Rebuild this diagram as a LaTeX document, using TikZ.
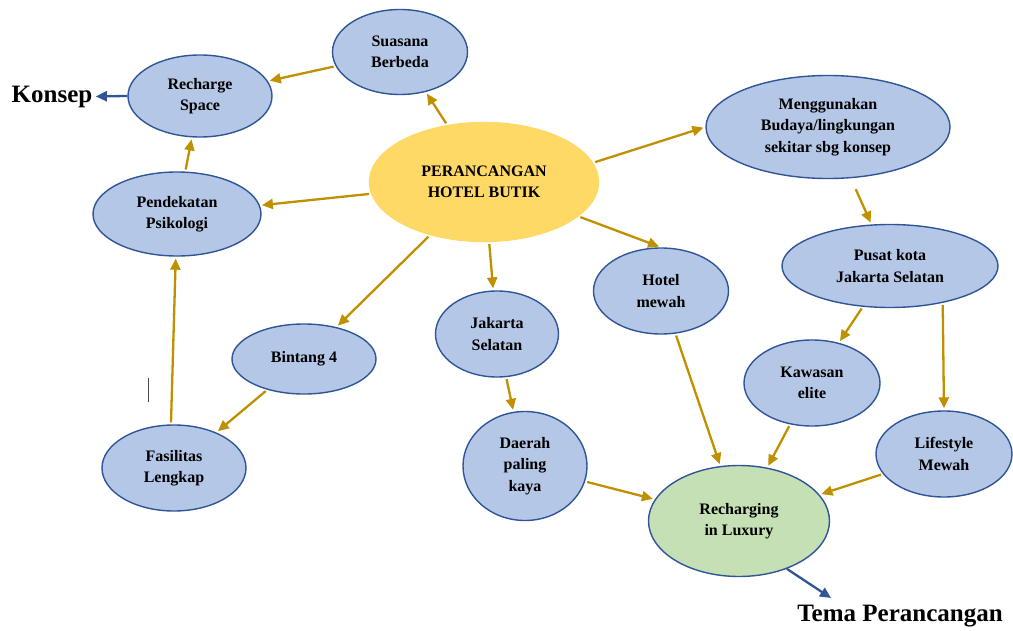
\documentclass[tikz,border=0pt]{standalone}
\usepackage{fontspec}
\setmainfont{Liberation Serif}
\usetikzlibrary{arrows.meta,positioning,shapes}
\definecolor{bubble}{HTML}{B4C7E7}
\definecolor{rim}{HTML}{2F5597}
\definecolor{gold}{HTML}{BF9000}
\definecolor{sun}{HTML}{FFD966}
\definecolor{mint}{HTML}{C5E0B4}
\tikzset{
mindmap/.style={>={Triangle[length=11pt,width=10pt]},x=1pt,y=-1pt,
font=\bfseries\fontsize{16}{21.5}\selectfont},
idea/.style={ellipse,draw=rim,fill=bubble,line width=1.4pt,
align=center,inner sep=0pt},
core/.style={idea,draw=sun,fill=sun},
theme/.style={idea,fill=mint},
link/.style={->,color=gold,line width=2.3pt,shorten >=2pt,shorten <=2pt},
label link/.style={->,color=rim,line width=2.3pt},
tag/.style={font=\bfseries\fontsize{25}{30}\selectfont},
}

\begin{document}
\begin{tikzpicture}[mindmap]
    \useasboundingbox (0,0) rectangle (1013,631);

    \node[core, minimum width=229pt, minimum height=119pt] (butik) at (484,182) {PERANCANGAN\\HOTEL BUTIK};
    \node[idea, minimum width=135pt, minimum height=85pt] (suasana) at (400,52) {Suasana\\Berbeda};
    \node[idea, minimum width=144pt, minimum height=82pt] (recharge) at (200,96) {Recharge\\Space};
    \node[idea, minimum width=168pt, minimum height=84pt] (pendekatan) at (177,214) {Pendekatan\\Psikologi};
    \node[idea, minimum width=144pt, minimum height=70pt] (bintang) at (304,359) {Bintang 4};
    \node[idea, minimum width=144pt, minimum height=86pt] (fasilitas) at (174,468) {Fasilitas\\Lengkap};
    \node[idea, minimum width=123pt, minimum height=86pt] (jaksel) at (497,334) {Jakarta\\Selatan};
    \node[idea, minimum width=124pt, minimum height=109pt] (daerah) at (525,466) {Daerah\\paling\\kaya};
    \node[idea, minimum width=135pt, minimum height=86pt] (mewah) at (661,291) {Hotel\\mewah};
    \node[idea, minimum width=244pt, minimum height=103pt] (budaya) at (828,127) {Menggunakan\\Budaya/lingkungan\\sekitar sbg konsep};
    \node[idea, minimum width=216pt, minimum height=83pt] (pusat) at (890,266) {Pusat kota\\Jakarta Selatan};
    \node[idea, minimum width=136pt, minimum height=86pt] (kawasan) at (812,383) {Kawasan\\elite};
    \node[idea, minimum width=136pt, minimum height=86pt] (lifestyle) at (944,454) {Lifestyle\\Mewah};
    \node[theme, minimum width=181pt, minimum height=111pt] (luxury) at (739,521) {Recharging\\in Luxury};

    \node[tag] (konsep) at (52,97) {Konsep};
    \node[tag] (tema) at (900,616) {Tema Perancangan};
    \coordinate (tema tip) at (831,598);

    % stray cursor mark
    \draw[black!70, line width=1pt] (148,378) -- (148,402);

    \path[link] (butik) edge (suasana)
                (suasana) edge (recharge)
                (pendekatan) edge (recharge)
                (butik) edge (pendekatan)
                (fasilitas.94) edge (pendekatan)
                (butik) edge (bintang)
                (bintang) edge (fasilitas)
                (butik) edge (jaksel)
                (jaksel) edge (daerah)
                (butik.-20) edge (mewah.north)
                (butik.10) edge (budaya.west)
                (pusat) edge (kawasan)
                (pusat.-35) edge (lifestyle.north)
                (mewah) edge (luxury)
                (kawasan) edge (luxury)
                (lifestyle) edge (luxury)
                (daerah) edge (luxury);
    \path[link, shorten <=12pt] (budaya) edge (pusat);

    \path[label link] (recharge.west) edge (konsep)
                      (luxury.-45) edge (tema tip);
\end{tikzpicture}
\end{document}
